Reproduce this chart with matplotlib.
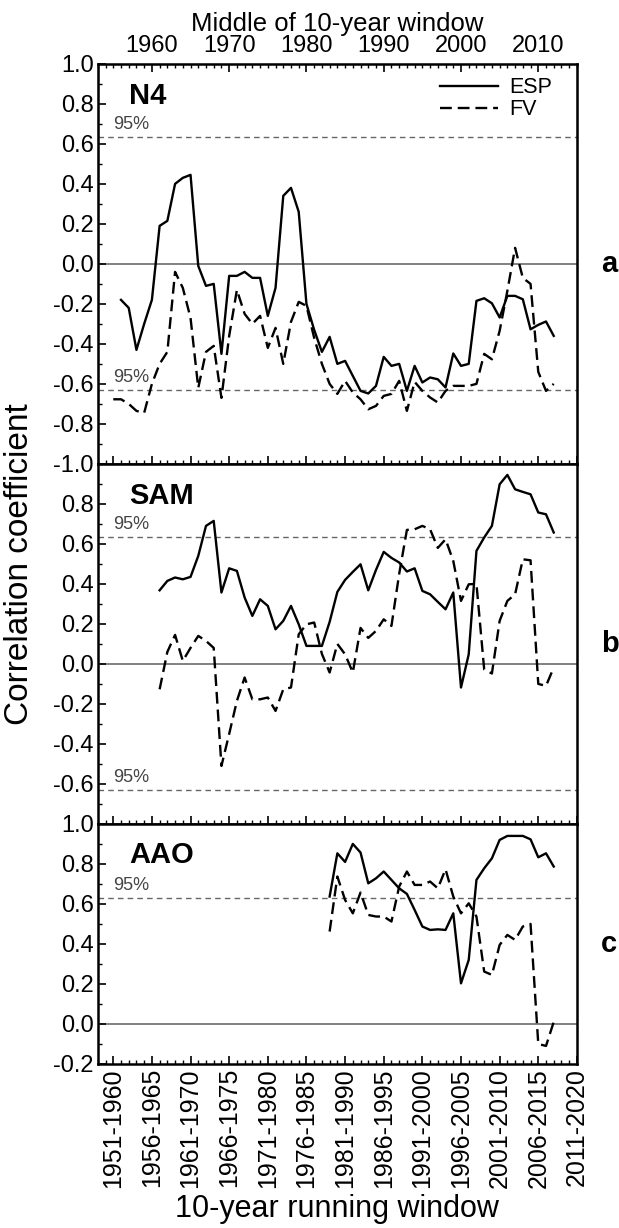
import numpy as np
import matplotlib
matplotlib.use('Agg')
import matplotlib.pyplot as plt
from matplotlib.ticker import MultipleLocator, FixedLocator

plt.rcParams['font.family'] = ['Liberation Sans', 'DejaVu Sans']
plt.rcParams['axes.unicode_minus'] = False

# Start year of each 10-year window
years_n4_esp = list(range(1952, 2009))
years_n4_fv = list(range(1951, 2009))
years_sam = list(range(1957, 2009))
years_aao = list(range(1979, 2009))

n4_esp = [-0.18, -0.22, -0.43, -0.30, -0.18, 0.19, 0.215, 0.40, 0.43, 0.445,
          -0.01, -0.11, -0.10, -0.45, -0.06, -0.06, -0.04, -0.07, -0.07, -0.26,
          -0.12, 0.34, 0.38, 0.26, -0.20, -0.33, -0.44, -0.365, -0.50, -0.485,
          -0.56, -0.635, -0.648, -0.61, -0.465, -0.51, -0.50, -0.635, -0.51, -0.593,
          -0.568, -0.577, -0.618, -0.448, -0.51, -0.50, -0.185, -0.172, -0.197, -0.268,
          -0.16, -0.16, -0.177, -0.327, -0.305, -0.288, -0.36]
n4_fv = [-0.677, -0.677, -0.70, -0.735, -0.745, -0.60, -0.50, -0.44, -0.04, -0.12,
         -0.27, -0.62, -0.44, -0.41, -0.67, -0.36, -0.13, -0.25, -0.30, -0.26,
         -0.42, -0.32, -0.50, -0.29, -0.19, -0.21, -0.37, -0.50, -0.60, -0.65,
         -0.585, -0.643, -0.677, -0.727, -0.71, -0.66, -0.65, -0.585, -0.735, -0.59,
         -0.635, -0.668, -0.693, -0.635, -0.61, -0.61, -0.61, -0.60, -0.45, -0.477,
         -0.335, -0.135, 0.08, -0.07, -0.10, -0.54, -0.635, -0.60]

sam_esp = [0.368, 0.415, 0.432, 0.423, 0.435, 0.54, 0.69, 0.715, 0.357, 0.478,
           0.465, 0.332, 0.24, 0.323, 0.29, 0.173, 0.215, 0.29, 0.198, 0.09,
           0.09, 0.09, 0.21, 0.36, 0.42, 0.46, 0.498, 0.368, 0.47, 0.56,
           0.53, 0.507, 0.462, 0.478, 0.365, 0.348, 0.31, 0.273, 0.357, -0.118,
           0.048, 0.565, 0.632, 0.69, 0.898, 0.945, 0.873, 0.86, 0.848, 0.757,
           0.748, 0.657]
sam_fv = [-0.127, 0.06, 0.145, 0.015, 0.08, 0.14, 0.115, 0.08, -0.51, -0.35,
          -0.185, -0.068, -0.177, -0.177, -0.168, -0.235, -0.127, -0.118, 0.148, 0.198,
          0.207, 0.05, -0.043, 0.10, 0.048, -0.043, 0.18, 0.13, 0.165, 0.223,
          0.19, 0.45, 0.67, 0.673, 0.69, 0.673, 0.58, 0.623, 0.515, 0.315,
          0.398, 0.40, -0.027, -0.048, 0.215, 0.315, 0.348, 0.523, 0.518, -0.10,
          -0.11, -0.018]

aao_esp = [0.637, 0.853, 0.81, 0.90, 0.857, 0.703, 0.728, 0.762, 0.72, 0.678,
           0.65, 0.57, 0.487, 0.47, 0.473, 0.47, 0.553, 0.203, 0.32, 0.72,
           0.778, 0.828, 0.92, 0.94, 0.94, 0.94, 0.923, 0.833, 0.853, 0.787]
aao_fv = [0.462, 0.737, 0.62, 0.553, 0.657, 0.545, 0.537, 0.537, 0.512, 0.687,
          0.762, 0.695, 0.695, 0.712, 0.678, 0.773, 0.637, 0.553, 0.603, 0.537,
          0.262, 0.245, 0.395, 0.445, 0.42, 0.487, 0.50, -0.10, -0.11, 0.01]

window_starts = list(range(1951, 2012, 5))
window_labels = ['%d-%d' % (s, s + 9) for s in window_starts]
middle_labels = ['1960', '1970', '1980', '1990', '2000', '2010']
sig95 = 0.632

fig, axes = plt.subplots(3, 1, sharex=True, figsize=(6.19, 12.28), dpi=100,
                         gridspec_kw=dict(height_ratios=[2.0, 1.8, 1.2], hspace=0))
fig.subplots_adjust(left=0.158, right=0.932, top=0.948, bottom=0.1336)

dash = (0, (5, 2.5))
panels = [
    (axes[0], years_n4_esp, n4_esp, years_n4_fv, n4_fv, 'N4', 'a', (-1.0, 1.0), [sig95, -sig95], 0.92),
    (axes[1], years_sam, sam_esp, years_sam, sam_fv, 'SAM', 'b', (-0.8, 1.0), [sig95, -sig95], 0.91),
    (axes[2], years_aao, aao_esp, years_aao, aao_fv, 'AAO', 'c', (-0.2, 1.0), [sig95], 0.87),
]

for ax, xe, ye, xf, yf, name, letter, ylim, sigs, ny in panels:
    ax.axhline(0, color='#777777', lw=1.3, zorder=1)
    for s in sigs:
        ax.axhline(s, color='#666666', lw=1.0, ls=(0, (4, 3)), zorder=1)
        ax.text(1951.0, s + 0.02, '95%', fontsize=13, color='#444444', va='bottom', ha='left')
    ax.plot(xe, ye, color='black', lw=1.7, label='ESP', zorder=3)
    ax.plot(xf, yf, color='black', lw=1.7, ls=dash, label='FV', zorder=3)
    ax.set_ylim(*ylim)
    ax.set_xlim(1949, 2011)
    ax.yaxis.set_major_locator(MultipleLocator(0.2))
    ax.yaxis.set_minor_locator(MultipleLocator(0.1))
    ax.yaxis.set_major_formatter(plt.FuncFormatter(lambda v, p: '%.1f' % (round(v, 1) + 0.0)))
    ax.xaxis.set_major_locator(FixedLocator(window_starts))
    ax.xaxis.set_minor_locator(MultipleLocator(1))
    ax.tick_params(which='both', direction='in', labelsize=17, top=False, right=False, pad=3)
    ax.tick_params(which='major', length=6, width=1.2)
    ax.tick_params(which='minor', length=3, width=1.0)
    for sp in ax.spines.values():
        sp.set_linewidth(1.8)
    ax.text(0.065, ny, name, transform=ax.transAxes, fontsize=21, fontweight='bold',
            va='center', ha='left')
    ax.text(1.05, 0.5, letter, transform=ax.transAxes, fontsize=21, fontweight='bold',
            va='center', ha='left')

# panel b: boundary values belong to the neighbouring panels
axes[1].set_yticks([v / 10 for v in range(-6, 9, 2)])
axes[1].yaxis.set_minor_locator(MultipleLocator(0.1))

axes[2].set_xticks(window_starts)
axes[2].set_xticklabels(window_labels, rotation=90, fontsize=18)
axes[2].set_xlabel('10-year running window', fontsize=22, labelpad=4)

axes[0].legend(loc='upper right', frameon=False, fontsize=15.5, handlelength=2.7,
               borderaxespad=0, borderpad=0, labelspacing=0.05, handletextpad=0.5,
               bbox_to_anchor=(0.948, 0.967))

top = axes[0].twiny()
top.set_xlim(1949, 2011)
top.set_xticks([1956, 1966, 1976, 1986, 1996, 2006])
top.set_xticklabels(middle_labels, fontsize=17)
top.xaxis.set_minor_locator(MultipleLocator(1))
top.tick_params(which='both', direction='in', pad=5)
top.tick_params(which='major', length=6, width=1.2)
top.tick_params(which='minor', length=3, width=1.0)
top.set_xlabel('Middle of 10-year window', fontsize=18.5, labelpad=3)

fig.text(0.032, (0.948 + 0.1336) / 2, 'Correlation coefficient', rotation=90,
         fontsize=24, va='center', ha='center')

fig.savefig('out.png', dpi=100)
